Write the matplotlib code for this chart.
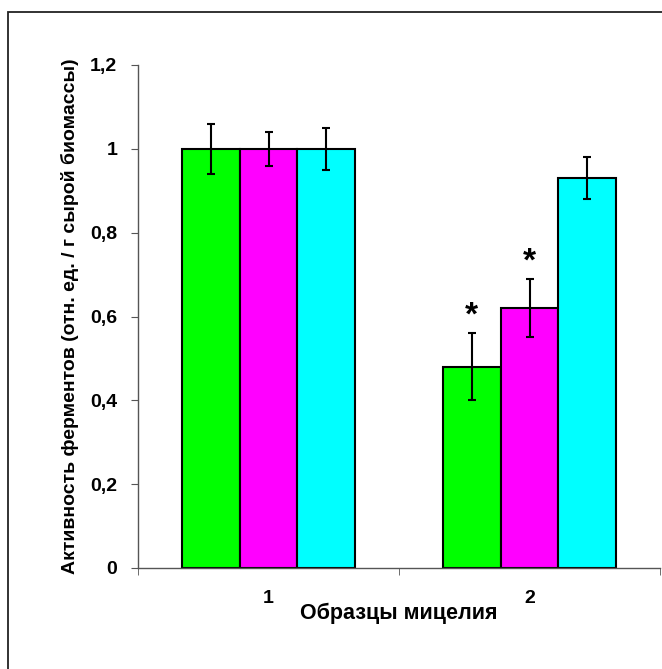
import numpy as np
import matplotlib
matplotlib.use("Agg")
import matplotlib.pyplot as plt
from matplotlib.patches import Rectangle

plt.rcParams["font.family"] = ["Liberation Sans", "DejaVu Sans"]
plt.rcParams["font.weight"] = "bold"

# данные
categories = ["1", "2"]
green_vals = [1.00, 0.48]
green_err = [0.06, 0.08]
magenta_vals = [1.00, 0.62]
magenta_err = [0.04, 0.07]
cyan_vals = [1.00, 0.93]
cyan_err = [0.05, 0.05]
stars = [[False, True], [False, True], [False, False]]  # по сериям
y_ticks = [0, 0.2, 0.4, 0.6, 0.8, 1.0, 1.2]
y_tick_labels = ["0", "0,2", "0,4", "0,6", "0,8", "1", "1,2"]

fig = plt.figure(figsize=(6.62, 6.69), dpi=100)
ax = fig.add_axes([138 / 662, 1 - 568 / 669, (660 - 138) / 662, (568 - 65) / 669])

# рамка вокруг всего графика
fig.patches.append(Rectangle((8 / 662, -0.05), 1.2, 1 - 12 / 669 + 0.05,
                             transform=fig.transFigure, fill=False,
                             edgecolor="#222222", linewidth=1.3))

x = np.arange(len(categories))
w = 0.222
series = [(green_vals, green_err, "#00ff00"),
          (magenta_vals, magenta_err, "#ff00ff"),
          (cyan_vals, cyan_err, "#00ffff")]

for i, (vals, errs, col) in enumerate(series):
    pos = x + (i - 1) * w
    ax.bar(pos, vals, width=w, color=col, edgecolor="black", linewidth=1.5, zorder=2)
    ax.errorbar(pos, vals, yerr=errs, fmt="none", ecolor="black",
                elinewidth=1.5, capsize=3.2, capthick=1.5, zorder=3)
    for j in range(len(categories)):
        if stars[i][j]:
            ax.text(pos[j], vals[j] + errs[j] + 0.003, "*", ha="center", va="bottom",
                    fontsize=24, fontweight="bold")

ax.set_xlim(-0.5, 1.5)
ax.set_ylim(0, 1.2)
ax.set_yticks(y_ticks)
ax.set_yticklabels(y_tick_labels)
ax.set_xticks(x)
ax.set_xticklabels(categories)
ax.set_xticks([-0.5, 0.5, 1.5], minor=True)
ax.tick_params(axis="x", which="major", length=0, pad=16, labelsize=14)
ax.tick_params(axis="x", which="minor", length=5, color="#555555")
ax.tick_params(axis="y", length=5, pad=10, labelsize=14, color="#555555")

for s in ["top", "right"]:
    ax.spines[s].set_visible(False)
for s in ["left", "bottom"]:
    ax.spines[s].set_color("#555555")
    ax.spines[s].set_linewidth(1.0)

ax.set_xlabel("Образцы мицелия", fontsize=15.5, fontweight="bold", labelpad=-3)
ax.set_ylabel("Активность ферментов (отн. ед. / г сырой биомассы)",
              fontsize=14, fontweight="bold", labelpad=8)

fig.savefig("out.png", dpi=100)
